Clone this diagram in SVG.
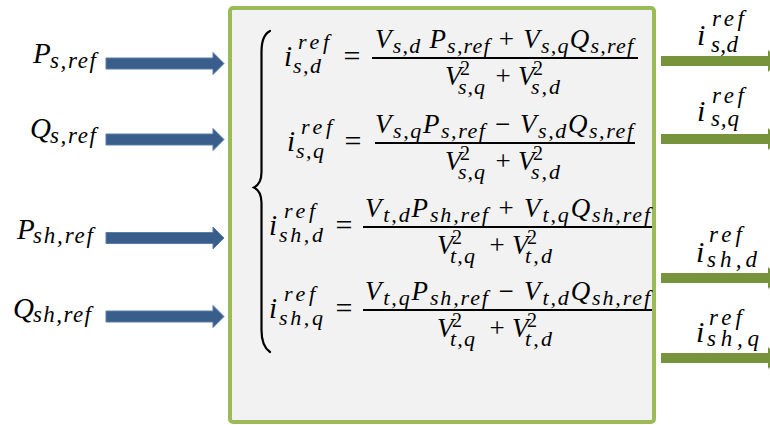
<svg xmlns="http://www.w3.org/2000/svg" width="770" height="425" viewBox="0 0 770 425">
<style>
.m{font-family:"Liberation Serif","Times New Roman",serif;font-style:italic;fill:#000}
.n{font-style:normal}
.b27{font-size:27px}.s22{font-size:22px}.s20{font-size:20px}.eq{font-size:30px;font-style:normal}
.l29{font-size:29px}.l23{font-size:23px}
.r30{font-size:30px}
.bar{stroke:#000;stroke-width:2.2}
.in{fill:#3A5E8C;stroke:#5B7DAA;stroke-width:1}
.out{fill:#77933C}
</style>
<rect width="770" height="425" fill="#fff"/>
<g id="block">
<rect x="230" y="8" width="424" height="414" rx="3" fill="#F2F2F2" stroke="#9BBB59" stroke-width="4"/>
<path d="M270,31 C264,34 261.5,40 261.5,52 L261.5,172 C261.5,180 259,185 254,187.5 C259,190 261.5,195 261.5,203 L261.5,330 C261.5,342 264,348 270,352" fill="none" stroke="#000" stroke-width="2.2" stroke-linecap="round"/>
<g id="eq1">
<text class="m" x="284" y="66" font-size="29">i</text>
<text class="m s22" x="298" y="49" textLength="31">ref</text>
<text class="m s22" x="293" y="73" textLength="28">s,d</text>
<text class="m eq" x="352" y="66" text-anchor="middle">=</text>
<line class="bar" x1="372" y1="58" x2="638" y2="58"/>
<text class="m b27" x="375" y="48" textLength="258">V<tspan class="s22" dy="5">s,d</tspan><tspan dy="-5">  P</tspan><tspan class="s22" dy="5">s,ref</tspan><tspan class="n" dy="-5"> + </tspan>V<tspan class="s22" dy="5">s,q</tspan><tspan dy="-5">Q</tspan><tspan class="s22" dy="5">s,ref</tspan></text>
<text class="m b27" x="445" y="85">V</text><text class="m s20 n" x="460" y="75">2</text><text class="m s22" x="458" y="94" textLength="27">s,q</text>
<text class="m b27 n" x="503" y="85" text-anchor="middle">+</text>
<text class="m b27" x="518" y="85">V</text><text class="m s20 n" x="533" y="75">2</text><text class="m s22" x="531" y="94" textLength="29">s,d</text>
</g>
<g id="eq2">
<text class="m" x="287" y="151" font-size="29">i</text>
<text class="m s22" x="301" y="134" textLength="31">ref</text>
<text class="m s22" x="296" y="158" textLength="28">s,q</text>
<text class="m eq" x="353" y="151" text-anchor="middle">=</text>
<line class="bar" x1="375" y1="143" x2="635" y2="143"/>
<text class="m b27" x="375" y="133" textLength="258">V<tspan class="s22" dy="5">s,q</tspan><tspan dy="-5">P</tspan><tspan class="s22" dy="5">s,ref</tspan><tspan class="n" dy="-5"> − </tspan>V<tspan class="s22" dy="5">s,d</tspan><tspan dy="-5">Q</tspan><tspan class="s22" dy="5">s,ref</tspan></text>
<text class="m b27" x="445" y="170">V</text><text class="m s20 n" x="460" y="160">2</text><text class="m s22" x="458" y="179" textLength="27">s,q</text>
<text class="m b27 n" x="503" y="170" text-anchor="middle">+</text>
<text class="m b27" x="518" y="170">V</text><text class="m s20 n" x="533" y="160">2</text><text class="m s22" x="531" y="179" textLength="29">s,d</text>
</g>
<g id="eq3">
<text class="m" x="269" y="235" font-size="29">i</text>
<text class="m s22" x="284" y="218" textLength="31">ref</text>
<text class="m s22" x="279" y="242" textLength="44">sh,d</text>
<text class="m eq" x="344" y="235" text-anchor="middle">=</text>
<line class="bar" x1="363" y1="227" x2="652" y2="227"/>
<text class="m b27" x="365" y="217" textLength="285">V<tspan class="s22" dy="5">t,d</tspan><tspan dy="-5">P</tspan><tspan class="s22" dy="5">sh,ref</tspan><tspan class="n" dy="-5"> + </tspan>V<tspan class="s22" dy="5">t,q</tspan><tspan dy="-5">Q</tspan><tspan class="s22" dy="5">sh,ref</tspan></text>
<text class="m b27" x="437" y="254">V</text><text class="m s20 n" x="452" y="244">2</text><text class="m s22" x="450" y="263" textLength="25">t,q</text>
<text class="m b27 n" x="497" y="254" text-anchor="middle">+</text>
<text class="m b27" x="512" y="254">V</text><text class="m s20 n" x="527" y="244">2</text><text class="m s22" x="525" y="263" textLength="27">t,d</text>
</g>
<g id="eq4">
<text class="m" x="269" y="318" font-size="29">i</text>
<text class="m s22" x="284" y="301" textLength="31">ref</text>
<text class="m s22" x="279" y="325" textLength="44">sh,q</text>
<text class="m eq" x="344" y="318" text-anchor="middle">=</text>
<line class="bar" x1="363" y1="310" x2="652" y2="310"/>
<text class="m b27" x="365" y="300" textLength="285">V<tspan class="s22" dy="5">t,q</tspan><tspan dy="-5">P</tspan><tspan class="s22" dy="5">sh,ref</tspan><tspan class="n" dy="-5"> − </tspan>V<tspan class="s22" dy="5">t,d</tspan><tspan dy="-5">Q</tspan><tspan class="s22" dy="5">sh,ref</tspan></text>
<text class="m b27" x="437" y="337">V</text><text class="m s20 n" x="452" y="327">2</text><text class="m s22" x="450" y="346" textLength="25">t,q</text>
<text class="m b27 n" x="497" y="337" text-anchor="middle">+</text>
<text class="m b27" x="512" y="337">V</text><text class="m s20 n" x="527" y="327">2</text><text class="m s22" x="525" y="346" textLength="27">t,d</text>
</g>
</g>
<g id="in-Ps"><text class="m l29" x="33" y="63">P</text><text class="m l23" x="50" y="68" textLength="46">s,ref</text></g>
<g id="in-Qs"><text class="m l29" x="30" y="138">Q</text><text class="m l23" x="50" y="143" textLength="46">s,ref</text></g>
<g id="in-Psh"><text class="m l29" x="17" y="239">P</text><text class="m l23" x="33" y="243" textLength="60">sh,ref</text></g>
<g id="in-Qsh"><text class="m l29" x="13" y="318">Q</text><text class="m l23" x="33" y="322" textLength="58">sh,ref</text></g>
<g id="out-isd"><text class="m r30" x="697" y="45">i</text><text class="m l23" x="712" y="26" textLength="32">ref</text><text class="m l23" x="711" y="52" textLength="27">s,d</text></g>
<g id="out-isq"><text class="m r30" x="697" y="121">i</text><text class="m l23" x="712" y="103" textLength="32">ref</text><text class="m l23" x="711" y="126" textLength="28">s,q</text></g>
<g id="out-ishd"><text class="m r30" x="696" y="262">i</text><text class="m l23" x="709" y="242" textLength="33">ref</text><text class="m l23" x="707" y="267" textLength="50">sh,d</text></g>
<g id="out-ishq"><text class="m r30" x="696" y="342">i</text><text class="m l23" x="709" y="325" textLength="33">ref</text><text class="m l23" x="707" y="346" textLength="52">sh,q</text></g>
<g id="connectors">
<polygon class="in" points="106,58 213,58 213,52.5 224,63.5 213,74.5 213,69 106,69"/>
<polygon class="in" points="106,134 213,134 213,128.5 224,139.5 213,150.5 213,145 106,145"/>
<polygon class="in" points="106,232.5 213,232.5 213,227 224,238 213,249 213,243.5 106,243.5"/>
<polygon class="in" points="106,311 213,311 213,305.5 224,316.5 213,327.5 213,322 106,322"/>
<polygon class="out" points="661,56 768,56 768,50 779,61 768,72 768,66 661,66"/>
<polygon class="out" points="661,134 768,134 768,128 779,139 768,150 768,144 661,144"/>
<polygon class="out" points="661,273 768,273 768,267 779,278 768,289 768,283 661,283"/>
<polygon class="out" points="661,353 768,353 768,347 779,358 768,369 768,363 661,363"/>
</g>
</svg>
